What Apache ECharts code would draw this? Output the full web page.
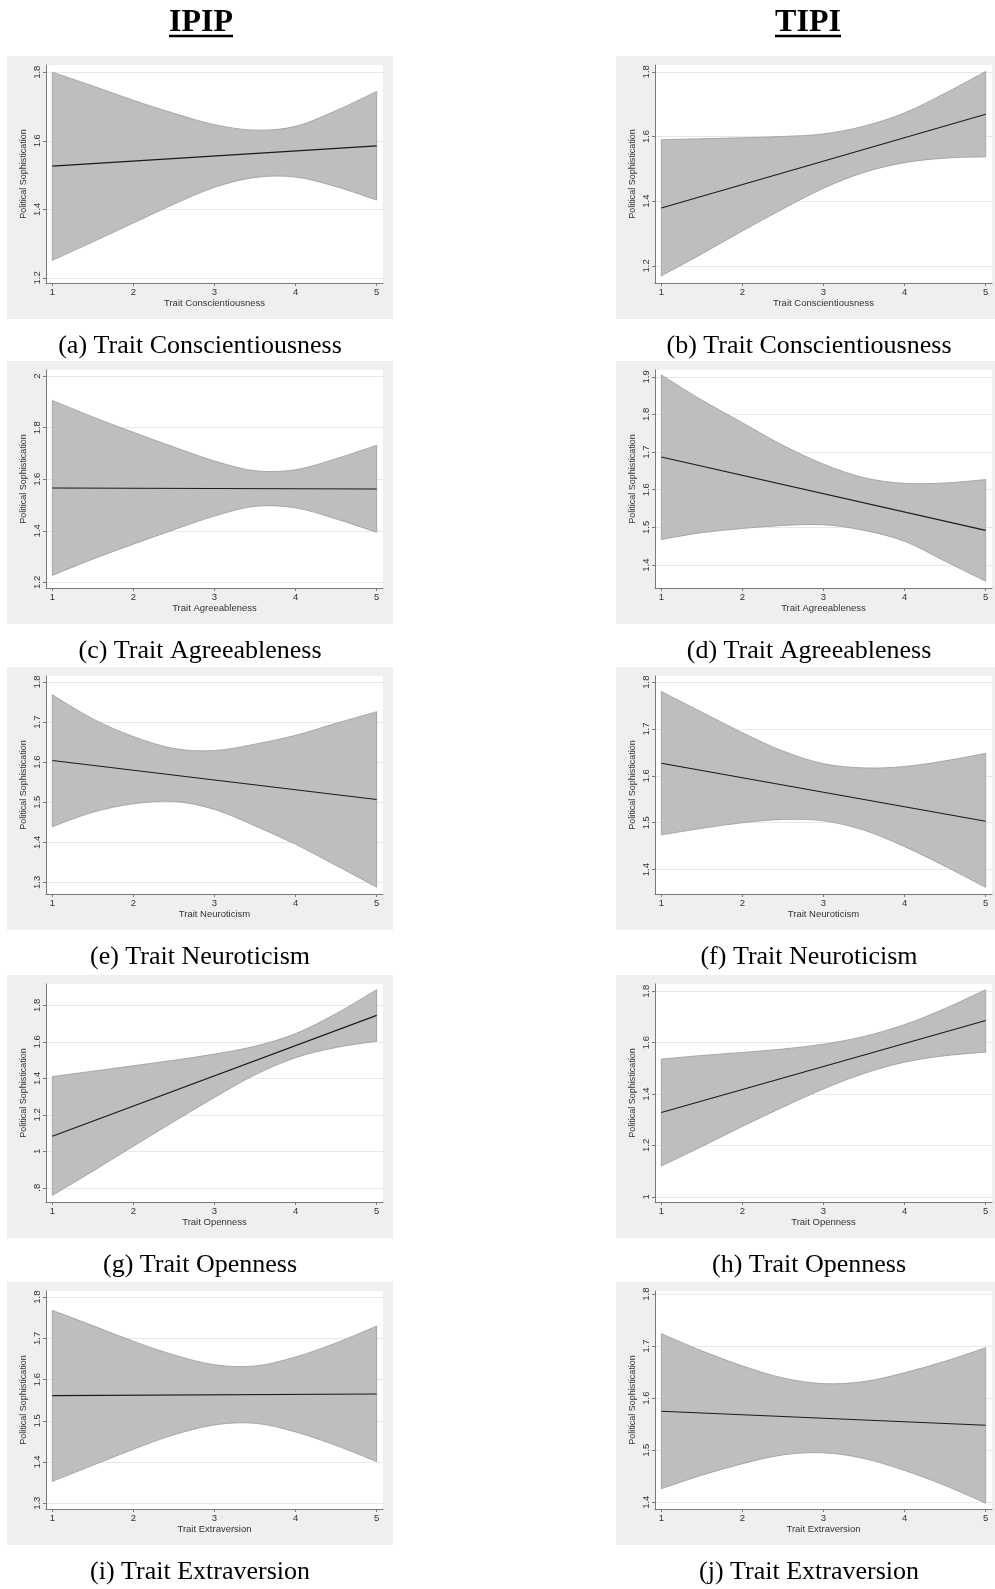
<!DOCTYPE html>
<html>
<head>
<meta charset="utf-8">
<script src="https://cdn.jsdelivr.net/npm/echarts@6/dist/echarts.min.js"></script>
<style>
  html, body { margin: 0; padding: 0; background: #fff; }
  #main { width: 995px; height: 1589px; }
</style>
</head>
<body>
<div id="main"></div>
<script>
var xGrid = [1, 1.5, 2, 2.5, 3, 3.5, 4, 4.5, 5];
var xTicks = [1, 2, 3, 4, 5];

// (a) IPIP - Conscientiousness
var aFit = [1.526, 1.585];
var aUpper = [1.800, 1.760, 1.718, 1.680, 1.647, 1.631, 1.642, 1.688, 1.744];
var aLower = [1.251, 1.305, 1.360, 1.415, 1.464, 1.493, 1.494, 1.466, 1.427];
var aTicks = [1.2, 1.4, 1.6, 1.8];
var aRange = [1.185, 1.821];

// (b) TIPI - Conscientiousness
var bFit = [1.379, 1.669];
var bUpper = [1.590, 1.593, 1.596, 1.600, 1.608, 1.632, 1.673, 1.734, 1.801];
var bLower = [1.169, 1.237, 1.308, 1.376, 1.440, 1.489, 1.519, 1.533, 1.537];
var bTicks = [1.2, 1.4, 1.6, 1.8];
var bRange = [1.147, 1.821];

// (c) IPIP - Agreeableness
var cFit = [1.566, 1.562];
var cUpper = [1.906, 1.842, 1.782, 1.725, 1.671, 1.633, 1.637, 1.680, 1.732];
var cLower = [1.227, 1.290, 1.348, 1.404, 1.457, 1.495, 1.489, 1.446, 1.394];
var cTicks = [1.2, 1.4, 1.6, 1.8, 2];
var cRange = [1.178, 2.024];

// (d) TIPI - Agreeableness
var dFit = [1.687, 1.492];
var dUpper = [1.905, 1.838, 1.778, 1.718, 1.668, 1.632, 1.617, 1.618, 1.627];
var dLower = [1.468, 1.486, 1.497, 1.505, 1.507, 1.492, 1.463, 1.410, 1.357];
var dTicks = [1.4, 1.5, 1.6, 1.7, 1.8, 1.9];
var dRange = [1.339, 1.918];

// (e) IPIP - Neuroticism
var eFit = [1.604, 1.507];
var eUpper = [1.768, 1.708, 1.664, 1.634, 1.629, 1.645, 1.667, 1.697, 1.726];
var eLower = [1.439, 1.475, 1.496, 1.502, 1.482, 1.441, 1.395, 1.342, 1.288];
var eTicks = [1.3, 1.4, 1.5, 1.6, 1.7, 1.8];
var eRange = [1.271, 1.815];

// (f) TIPI - Neuroticism
var fFit = [1.627, 1.503];
var fUpper = [1.780, 1.736, 1.692, 1.653, 1.626, 1.617, 1.620, 1.632, 1.648];
var fLower = [1.474, 1.488, 1.500, 1.507, 1.504, 1.484, 1.449, 1.407, 1.362];
var fTicks = [1.4, 1.5, 1.6, 1.7, 1.8];
var fRange = [1.348, 1.813];

// (g) IPIP - Openness
var gFit = [1.082, 1.745];
var gUpper = [1.410, 1.439, 1.469, 1.499, 1.533, 1.576, 1.645, 1.755, 1.886];
var gLower = [0.758, 0.891, 1.028, 1.163, 1.295, 1.419, 1.513, 1.569, 1.603];
var gTicks = [0.8, 1, 1.2, 1.4, 1.6, 1.8];
var gRange = [0.722, 1.917];

// (h) TIPI - Openness
var hFit = [1.328, 1.686];
var hUpper = [1.536, 1.550, 1.562, 1.575, 1.594, 1.624, 1.670, 1.733, 1.806];
var hLower = [1.120, 1.196, 1.274, 1.349, 1.420, 1.480, 1.524, 1.549, 1.563];
var hTicks = [1, 1.2, 1.4, 1.6, 1.8];
var hRange = [0.980, 1.828];

// (i) IPIP - Extraversion
var iFit = [1.561, 1.565];
var iUpper = [1.768, 1.731, 1.693, 1.660, 1.636, 1.633, 1.655, 1.689, 1.730];
var iLower = [1.353, 1.392, 1.431, 1.466, 1.490, 1.494, 1.473, 1.440, 1.401];
var iTicks = [1.3, 1.4, 1.5, 1.6, 1.7, 1.8];
var iRange = [1.286, 1.815];

// (j) TIPI - Extraversion
var jFit = [1.575, 1.548];
var jUpper = [1.724, 1.691, 1.662, 1.639, 1.628, 1.632, 1.649, 1.671, 1.697];
var jLower = [1.426, 1.452, 1.474, 1.491, 1.495, 1.484, 1.461, 1.432, 1.398];
var jTicks = [1.4, 1.5, 1.6, 1.7, 1.8];
var jRange = [1.387, 1.806];

var panels = [
    { tag: '(a)', trait: 'Trait Conscientiousness', fit: aFit, upper: aUpper, lower: aLower, ticks: aTicks, range: aRange },
    { tag: '(b)', trait: 'Trait Conscientiousness', fit: bFit, upper: bUpper, lower: bLower, ticks: bTicks, range: bRange },
    { tag: '(c)', trait: 'Trait Agreeableness', fit: cFit, upper: cUpper, lower: cLower, ticks: cTicks, range: cRange },
    { tag: '(d)', trait: 'Trait Agreeableness', fit: dFit, upper: dUpper, lower: dLower, ticks: dTicks, range: dRange },
    { tag: '(e)', trait: 'Trait Neuroticism', fit: eFit, upper: eUpper, lower: eLower, ticks: eTicks, range: eRange },
    { tag: '(f)', trait: 'Trait Neuroticism', fit: fFit, upper: fUpper, lower: fLower, ticks: fTicks, range: fRange },
    { tag: '(g)', trait: 'Trait Openness', fit: gFit, upper: gUpper, lower: gLower, ticks: gTicks, range: gRange },
    { tag: '(h)', trait: 'Trait Openness', fit: hFit, upper: hUpper, lower: hLower, ticks: hTicks, range: hRange },
    { tag: '(i)', trait: 'Trait Extraversion', fit: iFit, upper: iUpper, lower: iLower, ticks: iTicks, range: iRange },
    { tag: '(j)', trait: 'Trait Extraversion', fit: jFit, upper: jUpper, lower: jLower, ticks: jTicks, range: jRange }
];

// layout of the 2 x 5 panels
var colX = [7, 616];
var rowY = [56, 361, 667, 975, 1282];
var PW = 386, PH = 263;

var axisColor = '#7a7a7a';
var textColor = '#333';
var sans = '"Liberation Sans", Arial, sans-serif';
var serif = '"Liberation Serif", "Times New Roman", serif';

function fmt(v) {
    return String(+v.toFixed(2)).replace(/^0\./, '.');
}

// smooth curve through pixel points (Catmull-Rom as cubic bezier)
function curvePath(pts, start) {
    var d = (start ? 'M' : 'L') + pts[0][0] + ' ' + pts[0][1];
    for (var k = 0; k < pts.length - 1; k++) {
        var p0 = pts[Math.max(k - 1, 0)], p1 = pts[k], p2 = pts[k + 1], p3 = pts[Math.min(k + 2, pts.length - 1)];
        d += ' C' + (p1[0] + (p2[0] - p0[0]) / 6) + ' ' + (p1[1] + (p2[1] - p0[1]) / 6) +
            ' ' + (p2[0] - (p3[0] - p1[0]) / 6) + ' ' + (p2[1] - (p3[1] - p1[1]) / 6) +
            ' ' + p2[0] + ' ' + p2[1];
    }
    return d;
}

var grids = [], xAxes = [], yAxes = [], series = [];
var graphics = [
    { type: 'text', z: 10, style: { text: 'IPIP', x: 201, y: 23, font: 'bold 32px ' + serif, fill: '#000', textAlign: 'center', textVerticalAlign: 'middle', align: 'center', verticalAlign: 'middle' } },
    { type: 'line', z: 10, shape: { x1: 169, y1: 36, x2: 233, y2: 36 }, style: { stroke: '#000', lineWidth: 2.5 } },
    { type: 'text', z: 10, style: { text: 'TIPI', x: 808, y: 23, font: 'bold 32px ' + serif, fill: '#000', textAlign: 'center', textVerticalAlign: 'middle', align: 'center', verticalAlign: 'middle' } },
    { type: 'line', z: 10, shape: { x1: 775, y1: 36, x2: 841, y2: 36 }, style: { stroke: '#000', lineWidth: 2.5 } }
];

panels.forEach(function (p, i) {
    var px = colX[i % 2];
    var py = rowY[Math.floor(i / 2)];

    graphics.push({ type: 'rect', z: -10, silent: true, shape: { x: px, y: py, width: PW, height: PH }, style: { fill: '#efefef' } });
    graphics.push({
        type: 'text', z: 10,
        style: { text: p.tag + ' ' + p.trait, x: px + PW / 2, y: py + 290, font: '26px ' + serif, fill: '#000', textAlign: 'center', textVerticalAlign: 'middle', align: 'center', verticalAlign: 'middle' }
    });

    grids.push({
        left: px + 39, top: py + 9, width: 337, height: 218,
        show: true, backgroundColor: '#fff', borderWidth: 0, containLabel: false, outerBoundsMode: 'none'
    });

    xAxes.push({
        gridIndex: i, type: 'value', min: 0.922, max: 5.078,
        name: p.trait, nameLocation: 'middle', nameGap: 15,
        nameTextStyle: { fontSize: 9.5, color: textColor, fontFamily: sans },
        axisLine: { show: true, onZero: false, lineStyle: { color: axisColor, width: 1 } },
        axisTick: { show: true, length: 3, customValues: xTicks, lineStyle: { color: axisColor } },
        axisLabel: { customValues: xTicks, fontSize: 9.5, color: textColor, fontFamily: sans, margin: 4 },
        splitLine: { show: false }
    });

    yAxes.push({
        gridIndex: i, type: 'value', min: p.range[0], max: p.range[1],
        name: 'Political Sophistication', nameLocation: 'middle', nameGap: 18,
        nameTextStyle: { fontSize: 9, color: textColor, fontFamily: sans },
        axisLine: { show: true, onZero: false, lineStyle: { color: axisColor, width: 1 } },
        axisTick: { show: true, length: 3, customValues: p.ticks, lineStyle: { color: axisColor } },
        axisLabel: { customValues: p.ticks, rotate: 90, fontSize: 9.5, color: textColor, fontFamily: sans, margin: 4, formatter: fmt },
        splitLine: { show: true, lineStyle: { color: '#e8e8e8', width: 1 } }
    });

    // confidence band: upper edge forward, lower edge back
    series.push({
        type: 'custom', xAxisIndex: i, yAxisIndex: i, z: 2, silent: true,
        data: [[xGrid[0], p.lower[0]]],
        encode: { x: 0, y: 1 },
        renderItem: function (params, api) {
            var up = xGrid.map(function (x, k) { return api.coord([x, p.upper[k]]); });
            var lo = xGrid.map(function (x, k) { return api.coord([x, p.lower[k]]); }).reverse();
            return {
                type: 'path',
                shape: { pathData: curvePath(up, true) + ' ' + curvePath(lo, false) + ' Z' },
                style: { fill: '#bebebe', stroke: '#9a9a9a', lineWidth: 0.8 }
            };
        }
    });
    series.push({
        type: 'line', xAxisIndex: i, yAxisIndex: i, z: 3,
        data: [[1, p.fit[0]], [5, p.fit[1]]],
        symbol: 'none', silent: true,
        lineStyle: { color: '#1a1a1a', width: 1.1 }
    });
});

var myChart = echarts.init(document.getElementById('main'), null, { renderer: 'canvas' });
myChart.setOption({
    backgroundColor: '#fff',
    animation: false,
    grid: grids,
    xAxis: xAxes,
    yAxis: yAxes,
    series: series,
    graphic: { elements: graphics }
});
</script>
</body>
</html>
